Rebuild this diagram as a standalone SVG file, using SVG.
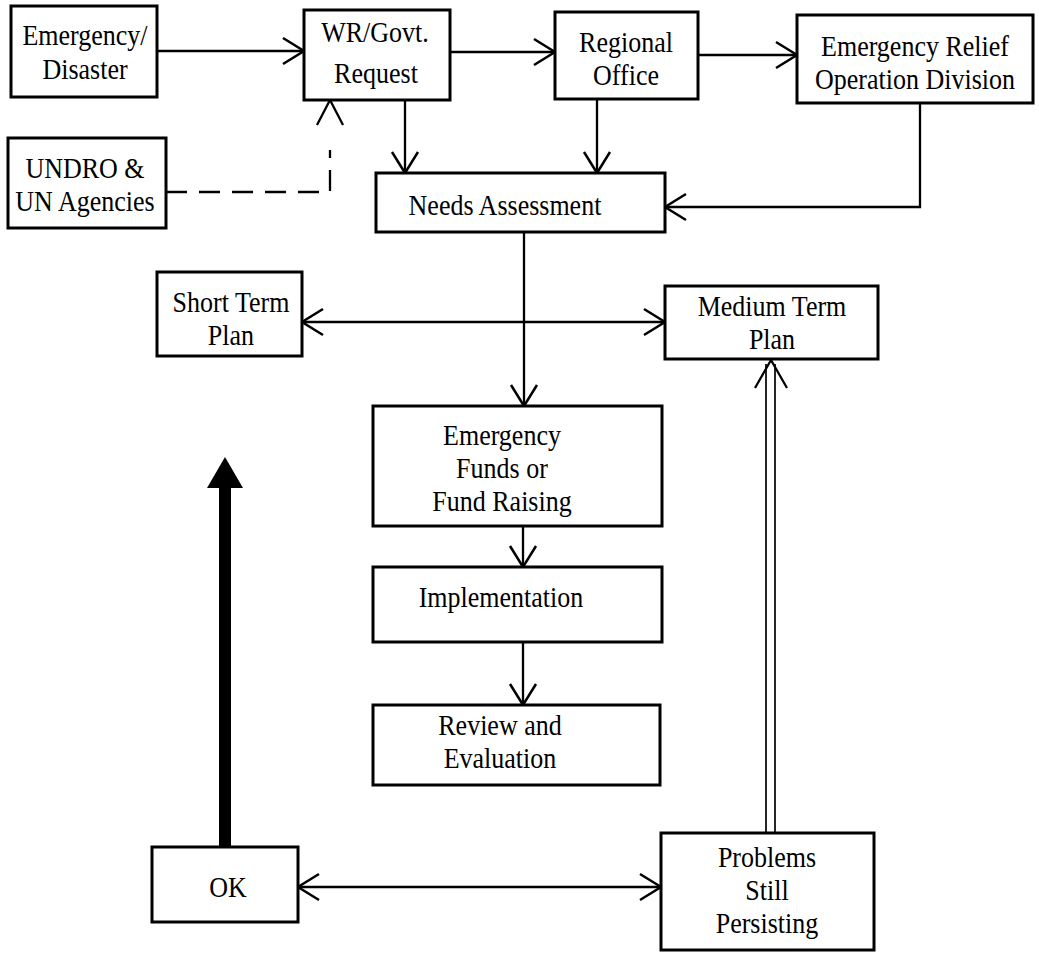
<svg xmlns="http://www.w3.org/2000/svg" width="1039" height="953" viewBox="0 0 1039 953">
  <style>
    .box { fill: #fff; stroke: #000; stroke-width: 3; }
    .lbl { font-family: "Liberation Serif", "Times New Roman", serif; font-size: 26px; fill: #000; text-anchor: middle;
           transform-box: fill-box; transform-origin: center; transform: scaleY(1.1); }
    .ln { fill: none; stroke: #000; stroke-width: 2.3; }
    .dash { fill: none; stroke: #000; stroke-width: 2.3; stroke-dasharray: 21 12; }
    .thin { fill: none; stroke: #000; stroke-width: 1.7; }
  </style>
  <defs>
    <marker id="v" viewBox="0 0 24 30" refX="22" refY="15" markerWidth="24" markerHeight="30" markerUnits="userSpaceOnUse" orient="auto-start-reverse">
      <path d="M1,2 L22,15 L1,28" fill="none" stroke="#000" stroke-width="2.5"/>
    </marker>
  </defs>
  <rect width="1039" height="953" fill="#fff"/>

  <g id="connectors">
    <path class="ln" d="M157,51 H304" marker-end="url(#v)"/>
    <path class="ln" d="M450,52 H555" marker-end="url(#v)"/>
    <path class="ln" d="M698,55 H797" marker-end="url(#v)"/>
    <path class="ln" d="M405,100 V173" marker-end="url(#v)"/>
    <path class="ln" d="M597,99 V173" marker-end="url(#v)"/>
    <path class="ln" d="M920,103 V207 H665" marker-end="url(#v)"/>
    <!-- dashed advisory link into WR/Govt. Request, with a detached open arrowhead -->
    <path class="dash" d="M166,192 H330 V150"/>
    <path class="ln" d="M317,125 L330,100 L343,125"/>
    <path class="ln" d="M524,232 V406" marker-end="url(#v)"/>
    <path class="ln" d="M302,322 H665" marker-start="url(#v)" marker-end="url(#v)"/>
    <path class="ln" d="M523,526 V567" marker-end="url(#v)"/>
    <path class="ln" d="M523,642 V705" marker-end="url(#v)"/>
    <path class="ln" d="M298,887 H661" marker-start="url(#v)" marker-end="url(#v)"/>
    <!-- double line from Problems Still Persisting up to Medium Term Plan -->
    <path class="thin" d="M766,833 V364 M775,833 V364"/>
    <path class="ln" d="M755,388 L771,360 L787,388"/>
    <!-- heavy arrow rising from OK -->
    <rect x="219" y="484" width="12" height="364" fill="#000"/>
    <polygon points="225,457 207,488 243,488" fill="#000"/>
  </g>

  <g id="emergency-disaster">
    <rect class="box" x="11" y="6" width="146" height="91"/>
    <text class="lbl" x="85" y="44">Emergency/</text>
    <text class="lbl" x="85" y="78">Disaster</text>
  </g>
  <g id="wr-govt-request">
    <rect class="box" x="304" y="10" width="146" height="90"/>
    <text class="lbl" x="375" y="41">WR/Govt.</text>
    <text class="lbl" x="376" y="82">Request</text>
  </g>
  <g id="regional-office">
    <rect class="box" x="555" y="12" width="143" height="87"/>
    <text class="lbl" x="626" y="51">Regional</text>
    <text class="lbl" x="626" y="84">Office</text>
  </g>
  <g id="emergency-relief-operation-division">
    <rect class="box" x="797" y="15" width="236" height="88"/>
    <text class="lbl" x="915" y="55">Emergency Relief</text>
    <text class="lbl" x="915" y="88">Operation Division</text>
  </g>
  <g id="undro-un-agencies">
    <rect class="box" x="8" y="138" width="158" height="90"/>
    <text class="lbl" x="85" y="177">UNDRO &amp;</text>
    <text class="lbl" x="85" y="210">UN Agencies</text>
  </g>
  <g id="needs-assessment">
    <rect class="box" x="376" y="173" width="289" height="59"/>
    <text class="lbl" x="505" y="214">Needs Assessment</text>
  </g>
  <g id="short-term-plan">
    <rect class="box" x="157" y="272" width="145" height="84"/>
    <text class="lbl" x="231" y="311">Short Term</text>
    <text class="lbl" x="231" y="344">Plan</text>
  </g>
  <g id="medium-term-plan">
    <rect class="box" x="665" y="286" width="213" height="73"/>
    <text class="lbl" x="772" y="315">Medium Term</text>
    <text class="lbl" x="772" y="348">Plan</text>
  </g>
  <g id="emergency-funds">
    <rect class="box" x="373" y="406" width="289" height="120"/>
    <text class="lbl" x="502" y="444">Emergency</text>
    <text class="lbl" x="502" y="477">Funds or</text>
    <text class="lbl" x="502" y="510">Fund Raising</text>
  </g>
  <g id="implementation">
    <rect class="box" x="373" y="567" width="289" height="75"/>
    <text class="lbl" x="501" y="606">Implementation</text>
  </g>
  <g id="review-evaluation">
    <rect class="box" x="373" y="705" width="287" height="80"/>
    <text class="lbl" x="500" y="734">Review and</text>
    <text class="lbl" x="500" y="767">Evaluation</text>
  </g>
  <g id="ok">
    <rect class="box" x="152" y="847" width="146" height="75"/>
    <text class="lbl" x="228" y="896">OK</text>
  </g>
  <g id="problems-still-persisting">
    <rect class="box" x="661" y="833" width="213" height="117"/>
    <text class="lbl" x="767" y="866">Problems</text>
    <text class="lbl" x="767" y="899">Still</text>
    <text class="lbl" x="767" y="932">Persisting</text>
  </g>
</svg>
